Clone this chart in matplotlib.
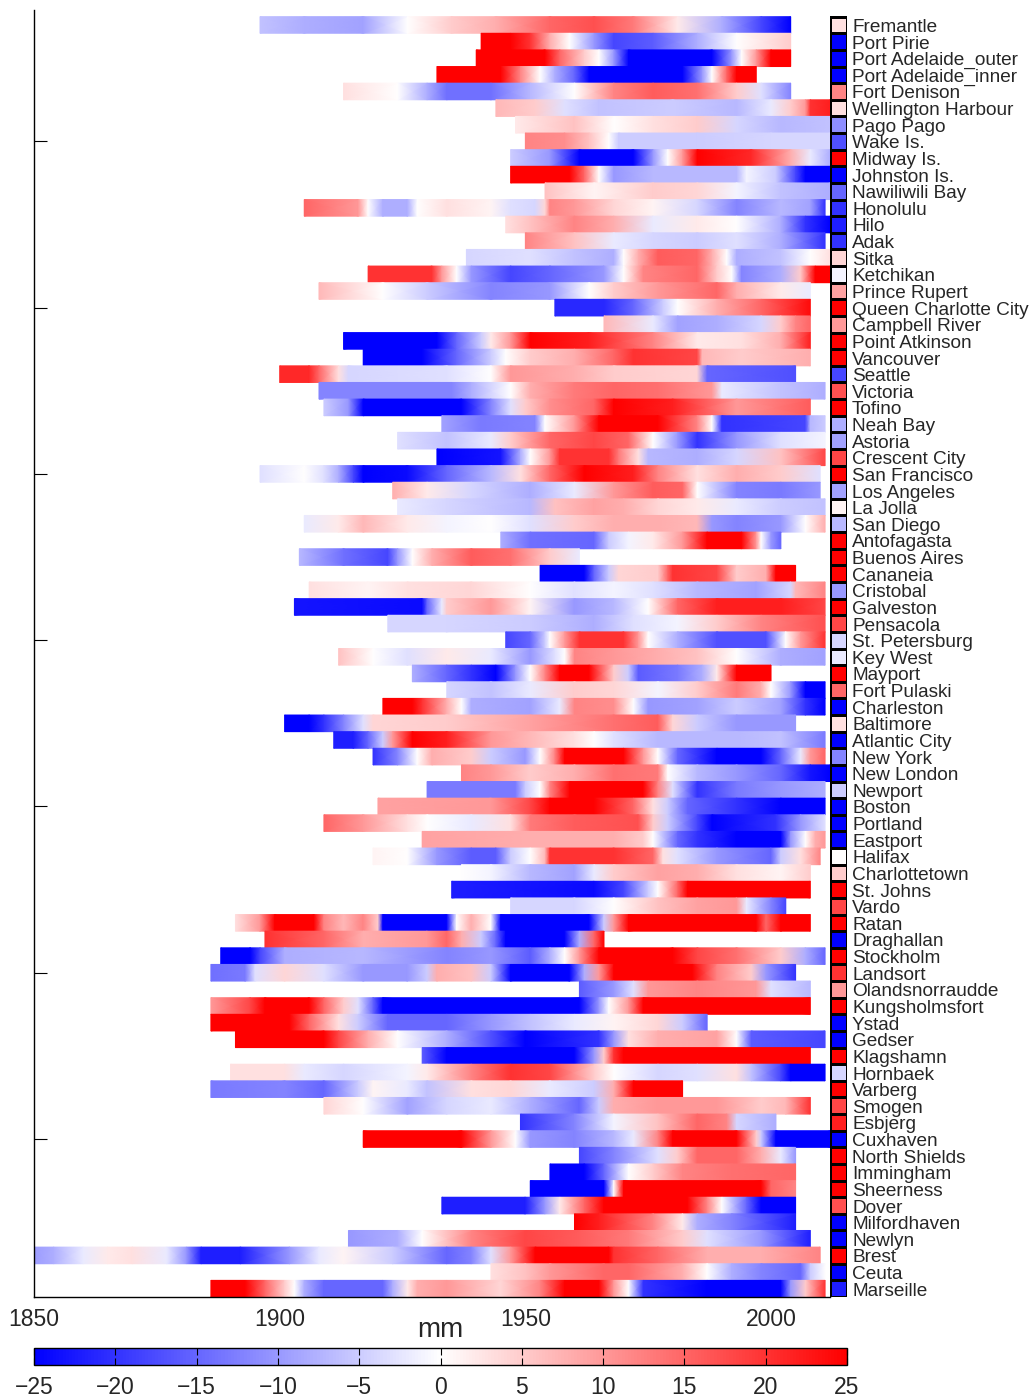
import numpy as np
import matplotlib
matplotlib.use('Agg')
import matplotlib.pyplot as plt
from matplotlib.colors import Normalize
from matplotlib.cm import ScalarMappable
from matplotlib.transforms import blended_transform_factory

plt.rcParams['font.family'] = ['Liberation Sans', 'DejaVu Sans']

# stations, top to bottom
stations = [
    'Fremantle', 'Port Pirie', 'Port Adelaide_outer', 'Port Adelaide_inner', 'Fort Denison',
    'Wellington Harbour', 'Pago Pago', 'Wake Is.', 'Midway Is.', 'Johnston Is.',
    'Nawiliwili Bay', 'Honolulu', 'Hilo', 'Adak', 'Sitka', 'Ketchikan', 'Prince Rupert',
    'Queen Charlotte City', 'Campbell River', 'Point Atkinson', 'Vancouver', 'Seattle',
    'Victoria', 'Tofino', 'Neah Bay', 'Astoria', 'Crescent City', 'San Francisco',
    'Los Angeles', 'La Jolla', 'San Diego', 'Antofagasta', 'Buenos Aires', 'Cananeia',
    'Cristobal', 'Galveston', 'Pensacola', 'St. Petersburg', 'Key West', 'Mayport',
    'Fort Pulaski', 'Charleston', 'Baltimore', 'Atlantic City', 'New York', 'New London',
    'Newport', 'Boston', 'Portland', 'Eastport', 'Halifax', 'Charlottetown', 'St. Johns',
    'Vardo', 'Ratan', 'Draghallan', 'Stockholm', 'Landsort', 'Olandsnorraudde',
    'Kungsholmsfort', 'Ystad', 'Gedser', 'Klagshamn', 'Hornbaek', 'Varberg', 'Smogen',
    'Esbjerg', 'Cuxhaven', 'North Shields', 'Immingham', 'Sheerness', 'Dover',
    'Milfordhaven', 'Newlyn', 'Brest', 'Ceuta', 'Marseille',
]

# value in the right-hand column for each station (mm)
trend = [
    3, -25, -25, -25, 12, 3, -11, -17, 25, -25,
    -15, -20, -22, -20, 4, -1, 9, 25, 10, 25,
    25, -18, 17, 25, -8, -9, 18, 25, -9, 1,
    -7, 25, 25, 25, -10, 25, 18, -4, -2, 25,
    15, -25, 3, -25, -12, -25, -5, -25, -25, -25,
    0, 5, 25, 18, 25, -25, 25, 20, 10, 25,
    -25, -25, 25, -4, 25, 18, 22, -25, 25, 25,
    25, 17, -25, -25, 25, -25, -22,
]

# (year, anomaly mm) read along each row, same order as stations
segments = [
    [(1896,-6),(1905,-8),(1917,-9),(1926,0),(1935,5),(1944,8),(1955,15),(1964,17),(1972,13),(1981,2),(1990,-8),(1998,-18),(2004,-25)],
    [(1941,25),(1947,25),(1951,20),(1955,8),(1959,0),(1964,-10),(1968,-18),(1976,-16),(1985,-8),(1993,0),(2004,5)],
    [(1940,25),(1954,25),(1957,15),(1962,5),(1965,0),(1968,-10),(1971,-25),(1988,-25),(1992,-10),(1994,0),(1997,10),(2000,25),(2004,25)],
    [(1932,25),(1945,25),(1949,12),(1953,0),(1956,-8),(1960,-15),(1963,-25),(1982,-25),(1986,-10),(1988,0),(1991,15),(1993,25),(1997,25)],
    [(1913,3),(1924,0),(1930,-8),(1934,-14),(1943,-14),(1951,-7),(1960,0),(1968,12),(1976,16),(1985,14),(1993,5),(1998,-3),(2004,-12)],
    [(1944,7),(1952,5),(1958,-3),(1965,-6),(1980,-5),(1993,-7),(2000,-2),(2004,5),(2007,10),(2008,20),(2012,22)],
    [(1948,2),(1960,6),(1968,0),(1976,3),(1985,5),(1993,-4),(2002,-7),(2012,-6)],
    [(1950,12),(1958,11),(1963,6),(1967,0),(1969,-5),(1985,-5),(2000,-4),(2012,-4)],
    [(1947,-5),(1955,-10),(1961,-25),(1972,-25),(1976,-10),(1979,0),(1982,10),(1985,25),(1996,21),(2004,8),(2008,-2),(2012,-8)],
    [(1947,25),(1959,25),(1962,15),(1965,0),(1968,-10),(1976,-7),(1993,-7),(1995,-1),(2001,-5),(2005,-18),(2007,-25),(2012,-25)],
    [(1954,6),(1964,1),(1976,5),(1985,4),(1993,-1),(2002,-6),(2012,-8)],
    [(1905,15),(1916,10),(1918,0),(1921,-8),(1926,-8),(1928,0),(1934,3),(1943,1),(1947,-3),(1952,-4),(1954,4),(1955,12),(1960,10),(1968,4),(1976,1),(1985,-4),(1993,-12),(2002,-7),(2008,-9),(2011,-20)],
    [(1946,3),(1951,6),(1960,12),(1968,8),(1976,-2),(1985,2),(1993,0),(2002,-8),(2007,-20),(2012,-25)],
    [(1950,12),(1960,6),(1968,-2),(1976,-4),(1985,-5),(1993,-3),(2002,-8),(2011,-20)],
    [(1938,-4),(1951,-3),(1960,-6),(1968,-8),(1970,0),(1973,8),(1977,16),(1985,15),(1988,8),(1991,0),(1993,-8),(2002,-6),(2008,0),(2012,3)],
    [(1918,20),(1931,20),(1933,10),(1936,0),(1939,-10),(1947,-18),(1955,-15),(1966,-10),(1970,0),(1974,12),(1985,15),(1989,5),(1992,0),(1994,-12),(2002,-8),(2006,5),(2009,25),(2012,25)],
    [(1908,7),(1921,0),(1930,-5),(1943,-12),(1955,-10),(1963,0),(1968,5),(1977,10),(1989,15),(1993,8),(2002,2),(2008,-2)],
    [(1956,-21),(1966,-21),(1972,-15),(1978,-5),(1981,0),(1989,8),(1998,15),(2008,24)],
    [(1966,7),(1976,-2),(1981,-9),(1989,-8),(1998,-4),(2002,5),(2005,12),(2008,15)],
    [(1913,-25),(1932,-25),(1936,-15),(1941,-5),(1943,2),(1947,10),(1951,25),(1963,22),(1976,12),(1985,2),(1994,3),(2002,8),(2008,22)],
    [(1917,-25),(1929,-25),(1936,-15),(1943,-5),(1946,0),(1951,5),(1960,8),(1968,15),(1972,20),(1985,18),(1986,7),(1994,5),(2008,8)],
    [(1900,21),(1906,21),(1908,15),(1912,3),(1914,-4),(1934,-3),(1943,0),(1947,10),(1960,8),(1968,5),(1985,4),(1987,-15),(2005,-17)],
    [(1908,-12),(1935,-12),(1939,-8),(1947,0),(1951,8),(1960,13),(1968,15),(1977,14),(1988,10),(1990,-2),(2002,-6),(2011,-8)],
    [(1909,-5),(1914,-10),(1917,-25),(1937,-25),(1943,-12),(1947,-3),(1950,5),(1955,11),(1964,15),(1968,25),(1980,22),(1993,10),(2008,16)],
    [(1933,-9),(1941,-13),(1952,-12),(1954,0),(1960,10),(1965,25),(1977,25),(1985,12),(1988,0),(1990,-20),(2007,-18),(2008,-7),(2011,-5)],
    [(1924,-3),(1934,-6),(1943,-2),(1947,5),(1955,15),(1964,18),(1971,15),(1976,0),(1981,-10),(1985,-20),(1993,-10),(2002,-3),(2011,-1)],
    [(1932,-25),(1945,-23),(1949,-8),(1951,0),(1955,10),(1957,20),(1967,20),(1969,13),(1973,3),(1975,-7),(1985,-8),(1993,-4),(2002,6),(2011,18)],
    [(1896,-3),(1905,0),(1909,-3),(1912,-8),(1915,-18),(1917,-25),(1926,-24),(1934,-15),(1943,-7),(1949,3),(1955,15),(1962,25),(1972,22),(1977,12),(1985,3),(1993,8),(2002,5),(2010,-3)],
    [(1923,8),(1930,2),(1939,-4),(1951,-8),(1960,-2),(1968,10),(1976,16),(1982,15),(1985,0),(1993,-12),(2002,-13),(2010,-10)],
    [(1924,-2),(1934,-4),(1951,-7),(1956,6),(1964,9),(1970,8),(1977,4),(1985,2),(1993,-2),(2002,-5),(2011,-6)],
    [(1905,-2),(1912,2),(1917,7),(1926,2),(1934,-1),(1943,0),(1951,-3),(1960,5),(1968,8),(1977,8),(1985,7),(1988,-10),(1993,-12),(2002,-10),(2007,0),(2011,8)],
    [(1945,-8),(1951,-14),(1964,-15),(1967,-5),(1971,-1),(1976,2),(1982,10),(1987,25),(1994,25),(1997,10),(1998,0),(2000,-10),(2002,-15)],
    [(1904,-7),(1913,-14),(1922,-18),(1924,-10),(1927,0),(1931,8),(1939,16),(1947,14),(1955,5),(1961,-2)],
    [(1953,-25),(1962,-25),(1964,-15),(1967,-5),(1969,4),(1977,5),(1979,15),(1980,20),(1989,18),(1993,5),(1999,8),(2001,25),(2005,25)],
    [(1906,3),(1918,1),(1926,3),(1939,4),(1951,0),(1960,-3),(1968,-1),(1976,-3),(1985,-7),(1997,-9),(2004,-4),(2005,7),(2011,12)],
    [(1903,-23),(1929,-24),(1930,-15),(1933,-2),(1934,5),(1943,10),(1951,1),(1960,-10),(1968,-7),(1975,0),(1981,15),(1989,22),(2002,22),(2011,18)],
    [(1922,-4),(1934,-4),(1951,-5),(1964,-8),(1972,-3),(1981,-1),(1989,5),(1998,12),(2011,17)],
    [(1946,-18),(1951,-15),(1954,-5),(1955,0),(1958,10),(1961,20),(1970,20),(1973,10),(1975,0),(1981,-8),(1989,-17),(1999,-17),(2003,0),(2006,10),(2011,20)],
    [(1912,6),(1919,0),(1926,-3),(1934,2),(1943,-2),(1951,-10),(1956,-3),(1958,0),(1960,12),(1968,10),(1977,8),(1985,6),(1993,0),(2002,-8),(2011,-9)],
    [(1927,-8),(1934,-15),(1939,-20),(1944,-25),(1948,-10),(1951,0),(1954,12),(1957,25),(1963,25),(1968,5),(1971,-5),(1973,-16),(1981,-13),(1986,-8),(1989,2),(1993,25),(2000,25)],
    [(1934,-4),(1943,-6),(1951,-2),(1960,5),(1968,4),(1977,-1),(1985,5),(1993,13),(1998,8),(2000,0),(2004,-10),(2007,-25),(2011,-25)],
    [(1921,25),(1927,25),(1929,20),(1934,8),(1937,0),(1939,-8),(1951,-9),(1957,-2),(1960,12),(1968,11),(1972,0),(1975,-10),(1985,-9),(1993,-5),(2002,-9),(2007,-20),(2011,-25)],
    [(1901,-25),(1906,-25),(1909,-20),(1913,-12),(1917,-3),(1919,4),(1934,5),(1951,9),(1968,14),(1977,16),(1980,4),(1985,-5),(1993,-10),(2005,-10)],
    [(1911,-22),(1915,-22),(1918,-15),(1921,-5),(1923,10),(1927,25),(1934,22),(1943,10),(1951,7),(1960,3),(1964,0),(1968,-3),(1977,-7),(1993,-7),(2002,-6),(2011,-13)],
    [(1919,-20),(1924,-12),(1928,0),(1931,8),(1939,5),(1943,-5),(1950,-10),(1953,0),(1956,12),(1958,25),(1970,25),(1974,10),(1977,0),(1981,-15),(1989,-25),(1998,-25),(2002,-15),(2006,-2),(2008,10),(2011,15)],
    [(1937,12),(1943,10),(1951,5),(1960,8),(1968,14),(1977,13),(1979,0),(1985,-7),(1993,-10),(2002,-15),(2008,-23),(2012,-25)],
    [(1930,-13),(1948,-13),(1950,-5),(1953,0),(1955,12),(1959,25),(1974,25),(1977,12),(1980,-3),(1985,-20),(1993,-13),(2002,-10),(2011,-8)],
    [(1920,9),(1943,10),(1951,18),(1955,25),(1964,25),(1972,15),(1976,3),(1979,-5),(1983,-15),(1993,-20),(2002,-25),(2011,-25)],
    [(1909,15),(1917,10),(1926,3),(1930,0),(1939,-2),(1947,3),(1951,13),(1960,16),(1973,17),(1976,5),(1979,-5),(1985,-18),(1988,-25),(2001,-20),(2006,-10),(2011,-3)],
    [(1929,9),(1951,8),(1968,8),(1974,5),(1976,0),(1981,-15),(1985,-20),(1993,-25),(2002,-25),(2004,-10),(2007,0),(2009,8),(2011,10)],
    [(1919,1),(1926,0),(1932,-10),(1939,-16),(1944,-16),(1947,-5),(1951,0),(1954,7),(1955,20),(1968,20),(1976,15),(1978,3),(1981,-3),(1989,-10),(2000,-15),(2002,-5),(2006,3),(2010,12)],
    [(1937,0),(1943,-1),(1951,-7),(1960,-9),(1964,-2),(1968,5),(1977,9),(1985,8),(1993,3),(2002,1),(2008,5)],
    [(1935,-22),(1964,-24),(1970,-18),(1975,-5),(1977,0),(1981,15),(1983,25),(2008,25)],
    [(1947,-4),(1960,-4),(1968,0),(1977,6),(1985,9),(1993,10),(1995,-2),(2000,-12),(2003,-18)],
    [(1891,3),(1896,10),(1899,25),(1907,25),(1909,12),(1913,7),(1917,12),(1920,5),(1921,-25),(1934,-25),(1936,0),(1939,8),(1943,0),(1945,-25),(1963,-25),(1966,-5),(1968,10),(1971,25),(1997,25),(1999,15),(2002,25),(2008,25)],
    [(1897,20),(1909,15),(1917,8),(1930,10),(1934,15),(1937,8),(1941,-5),(1944,-15),(1946,-25),(1958,-25),(1961,-8),(1964,15),(1966,25)],
    [(1888,-25),(1894,-25),(1896,-18),(1901,-8),(1917,-7),(1934,-12),(1943,-10),(1951,-16),(1955,-8),(1958,0),(1961,10),(1965,25),(1980,25),(1985,18),(1993,14),(2002,5),(2007,-8),(2011,-15)],
    [(1886,-14),(1893,-13),(1895,-3),(1901,4),(1909,-3),(1917,-10),(1926,-10),(1930,-5),(1932,8),(1939,6),(1943,-5),(1947,-25),(1959,-25),(1962,-8),(1965,10),(1968,25),(1984,25),(1989,12),(1996,5),(1999,-10),(2005,-20)],
    [(1961,-16),(1968,-10),(1972,-3),(1975,10),(1985,12),(1997,10),(2000,-3),(2008,-7)],
    [(1886,10),(1894,18),(1897,25),(1906,25),(1909,15),(1913,5),(1916,-3),(1919,-15),(1921,-25),(1961,-25),(1965,-10),(1967,0),(1971,10),(1974,25),(2008,25)],
    [(1886,25),(1902,25),(1906,15),(1912,3),(1916,-5),(1922,-15),(1934,-15),(1943,-10),(1951,-6),(1960,-2),(1968,1),(1977,4),(1982,-5),(1987,-15)],
    [(1891,25),(1909,25),(1912,18),(1918,8),(1924,0),(1934,-8),(1943,-17),(1950,-25),(1965,-20),(1968,-10),(1971,3),(1977,8),(1989,9),(1993,0),(1996,-16),(2011,-18)],
    [(1929,-16),(1934,-25),(1960,-25),(1964,-10),(1966,5),(1968,20),(1970,25),(2008,25)],
    [(1890,3),(1901,3),(1905,-2),(1913,-4),(1926,-1),(1930,2),(1939,12),(1947,20),(1955,18),(1964,5),(1968,0),(1977,-4),(1985,-3),(1993,3),(1996,-6),(2002,-18),(2004,-25),(2011,-25)],
    [(1886,-13),(1901,-12),(1909,-15),(1916,-5),(1919,1),(1926,-2),(1930,-6),(1939,3),(1947,4),(1955,-2),(1964,-5),(1968,8),(1972,25),(1982,25)],
    [(1909,4),(1917,0),(1926,-9),(1934,-4),(1943,-2),(1951,-8),(1961,-15),(1965,-5),(1968,8),(1977,10),(1989,10),(1998,5),(2003,7),(2008,20)],
    [(1949,-20),(1960,-12),(1968,-1),(1977,6),(1985,15),(1991,12),(1993,-4),(2001,-8)],
    [(1917,25),(1937,25),(1943,10),(1948,0),(1951,-10),(1960,-12),(1968,-7),(1972,-2),(1977,12),(1980,25),(1993,25),(1997,5),(1998,-5),(2001,-25),(2012,-25)],
    [(1961,-18),(1968,-12),(1977,-3),(1981,5),(1985,15),(1993,15),(1998,8),(2002,-2),(2005,-10)],
    [(1955,-25),(1962,-25),(1966,-15),(1971,0),(1976,5),(1982,12),(1992,14),(2005,15)],
    [(1951,-25),(1966,-25),(1968,0),(1970,25),(1998,25),(2000,15),(2005,12)],
    [(1933,-22),(1950,-22),(1954,-10),(1957,2),(1962,15),(1966,25),(1983,25),(1987,12),(1990,0),(1995,-15),(1998,-25),(2005,-25)],
    [(1960,25),(1965,22),(1976,12),(1982,2),(1985,-8),(1992,-12),(2005,-22)],
    [(1914,-10),(1924,-8),(1929,0),(1939,12),(1950,18),(1961,16),(1971,13),(1982,5),(1987,-3),(1998,-10),(2008,-22)],
    [(1849,-10),(1854,-8),(1860,-2),(1865,2),(1870,3),(1877,-2),(1881,-10),(1884,-22),(1892,-22),(1902,-10),(1908,-2),(1913,1),(1923,-5),(1934,-15),(1939,-12),(1943,-3),(1947,10),(1952,25),(1967,25),(1968,20),(1977,15),(1987,8),(1998,8),(2010,12)],
    [(1943,3),(1950,6),(1955,10),(1966,15),(1971,15),(1982,8),(1987,0),(1992,-8),(1998,-12),(2006,-15),(2008,-5),(2011,0)],
    [(1886,25),(1893,25),(1897,15),(1901,5),(1903,0),(1905,-8),(1909,-15),(1921,-15),(1923,-8),(1926,2),(1928,8),(1934,10),(1945,4),(1953,12),(1958,25),(1965,25),(1968,10),(1971,0),(1974,-20),(1987,-25),(2002,-25),(2004,-10),(2007,5),(2011,20)],
]

W, H = 1031, 1397
TXT = '#262626'


def rect(x0, y0, x1, y1):
    return [x0 / W, 1 - y1 / H, (x1 - x0) / W, (y1 - y0) / H]


n = len(stations)
norm = Normalize(vmin=-25, vmax=25)
cmap = plt.get_cmap('bwr')

fig = plt.figure(figsize=(W / 100, H / 100), dpi=100)

ax = fig.add_axes(rect(34, 10, 830, 1297))
for i, seg in enumerate(segments):
    yrs = np.array([s[0] for s in seg], dtype=float)
    vals = np.clip(np.array([s[1] for s in seg], dtype=float), -25, 25)
    yc = n - i
    X = np.vstack([yrs, yrs])
    Y = np.vstack([np.full_like(yrs, yc - 0.5), np.full_like(yrs, yc + 0.5)])
    C = np.vstack([vals, vals])
    ax.pcolormesh(X, Y, C, cmap=cmap, norm=norm, shading='gouraud')

ax.set_xlim(1850, 2012)
ax.set_ylim(0.5, 77.9)
ax.spines['top'].set_visible(False)
ax.spines['right'].set_visible(False)
ax.spines['left'].set_linewidth(1.0)
ax.spines['bottom'].set_linewidth(1.0)
ax.set_xticks([1850, 1900, 1950, 2000])
ax.set_yticks(range(10, 71, 10))
ax.set_yticklabels([])
ax.tick_params(axis='y', direction='in', length=9, width=0.8, color='k')
ax.tick_params(axis='x', length=0, pad=7.8, labelsize=16.5, labelcolor=TXT)

# right-hand column of per-station values
ax2 = fig.add_axes(rect(830, 10, 847, 1297))
edges_y = np.arange(n + 1) + 0.5
ax2.pcolormesh([0, 1], edges_y, np.array(trend[::-1], dtype=float).reshape(-1, 1),
               cmap=cmap, norm=norm, edgecolors='k', linewidth=0.9)
ax2.set_xlim(0, 1)
ax2.set_ylim(0.5, 77.9)
ax2.axis('off')
tr = blended_transform_factory(ax2.transAxes, ax2.transData)
for i, name in enumerate(stations):
    ax2.text(22 / 17, n - i - 0.42, name, transform=tr, ha='left', va='baseline',
             fontsize=13.7, color=TXT, clip_on=False)

# colorbar
cax = fig.add_axes(rect(34, 1348, 847, 1365))
cb = fig.colorbar(ScalarMappable(norm=norm, cmap=cmap), cax=cax, orientation='horizontal',
                  ticks=range(-25, 26, 5))
cb.outline.set_linewidth(1.0)
cax.tick_params(direction='in', length=5, width=0.8, top=True, bottom=True,
                labelsize=16.5, labelcolor=TXT, pad=8)
fig.text(440 / W, 1 - 1330 / H, 'mm', ha='center', va='center', fontsize=20, color=TXT)

fig.savefig('out.png', dpi=100)
